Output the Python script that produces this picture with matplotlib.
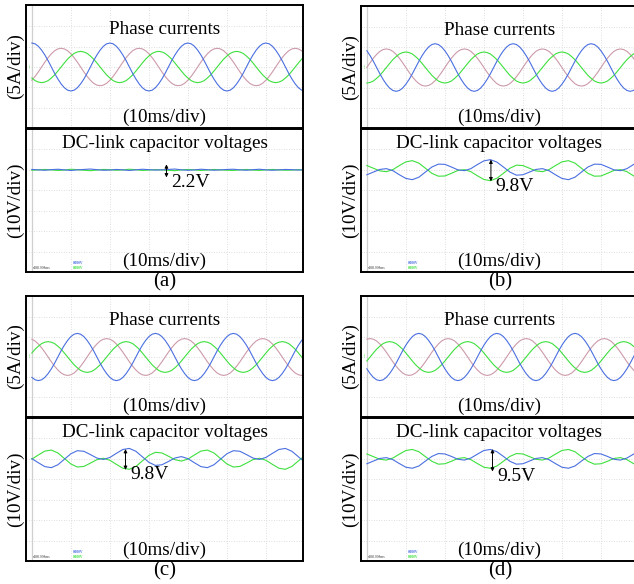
import matplotlib
matplotlib.use("Agg")
import matplotlib.pyplot as plt
import numpy as np

plt.rcParams['font.family'] = ['Liberation Serif', 'DejaVu Serif']

############################### data #####################
# scope time bases (ms): currents read every 1/24 period, voltages every 1/12 period
t_cur = np.arange(85) * 20 / 24
t_volt = np.arange(43) * 20 / 12

# phase currents in divisions (5 A/div)
ia_blue = [1.18, 1.14, 1.02, 0.83, 0.59, 0.31, 0, -0.31, -0.59, -0.83, -1.02, -1.14,
           -1.18, -1.14, -1.02, -0.83, -0.59, -0.31, 0, 0.31, 0.59, 0.83, 1.02, 1.14,
           1.18, 1.14, 1.02, 0.83, 0.59, 0.31, 0, -0.31, -0.59, -0.83, -1.02, -1.14,
           -1.18, -1.14, -1.02, -0.83, -0.59, -0.31, 0, 0.31, 0.59, 0.83, 1.02, 1.14,
           1.18, 1.14, 1.02, 0.83, 0.59, 0.31, 0, -0.31, -0.59, -0.83, -1.02, -1.14,
           -1.18, -1.14, -1.02, -0.83, -0.59, -0.31, 0, 0.31, 0.59, 0.83, 1.02, 1.14,
           1.18, 1.14, 1.02, 0.83, 0.59, 0.31, 0, -0.31, -0.59, -0.83, -1.02, -1.14, -1.18]
ia_pink = [-0.65, -0.46, -0.24, 0, 0.24, 0.46, 0.65, 0.80, 0.89, 0.92, 0.89, 0.80,
           0.65, 0.46, 0.24, 0, -0.24, -0.46, -0.65, -0.80, -0.89, -0.92, -0.89, -0.80,
           -0.65, -0.46, -0.24, 0, 0.24, 0.46, 0.65, 0.80, 0.89, 0.92, 0.89, 0.80,
           0.65, 0.46, 0.24, 0, -0.24, -0.46, -0.65, -0.80, -0.89, -0.92, -0.89, -0.80,
           -0.65, -0.46, -0.24, 0, 0.24, 0.46, 0.65, 0.80, 0.89, 0.92, 0.89, 0.80,
           0.65, 0.46, 0.24, 0, -0.24, -0.46, -0.65, -0.80, -0.89, -0.92, -0.89, -0.80,
           -0.65, -0.46, -0.24, 0, 0.24, 0.46, 0.65, 0.80, 0.89, 0.92, 0.89, 0.80, 0.65]
ia_green = [-0.54, -0.67, -0.74, -0.77, -0.74, -0.67, -0.54, -0.39, -0.20, 0, 0.20, 0.39,
            0.54, 0.67, 0.74, 0.77, 0.74, 0.67, 0.54, 0.39, 0.20, 0, -0.20, -0.39,
            -0.54, -0.67, -0.74, -0.77, -0.74, -0.67, -0.54, -0.39, -0.20, 0, 0.20, 0.39,
            0.54, 0.67, 0.74, 0.77, 0.74, 0.67, 0.54, 0.39, 0.20, 0, -0.20, -0.39,
            -0.54, -0.67, -0.74, -0.77, -0.74, -0.67, -0.54, -0.39, -0.20, 0, 0.20, 0.39,
            0.54, 0.67, 0.74, 0.77, 0.74, 0.67, 0.54, 0.39, 0.20, 0, -0.20, -0.39,
            -0.54, -0.67, -0.74, -0.77, -0.74, -0.67, -0.54, -0.39, -0.20, 0, 0.20, 0.39, 0.54]

ib_blue = [0.83, 0.59, 0.31, 0, -0.31, -0.59, -0.83, -1.02, -1.14, -1.18, -1.14, -1.02,
           -0.83, -0.59, -0.31, 0, 0.31, 0.59, 0.83, 1.02, 1.14, 1.18, 1.14, 1.02,
           0.83, 0.59, 0.31, 0, -0.31, -0.59, -0.83, -1.02, -1.14, -1.18, -1.14, -1.02,
           -0.83, -0.59, -0.31, 0, 0.31, 0.59, 0.83, 1.02, 1.14, 1.18, 1.14, 1.02,
           0.83, 0.59, 0.31, 0, -0.31, -0.59, -0.83, -1.02, -1.14, -1.18, -1.14, -1.02,
           -0.83, -0.59, -0.31, 0, 0.31, 0.59, 0.83, 1.02, 1.14, 1.18, 1.14, 1.02,
           0.83, 0.59, 0.31, 0, -0.31, -0.59, -0.83, -1.02, -1.14, -1.18, -1.14, -1.02, -0.83]
ib_pink = [0, 0.24, 0.46, 0.65, 0.80, 0.89, 0.92, 0.89, 0.80, 0.65, 0.46, 0.24,
           0, -0.24, -0.46, -0.65, -0.80, -0.89, -0.92, -0.89, -0.80, -0.65, -0.46, -0.24,
           0, 0.24, 0.46, 0.65, 0.80, 0.89, 0.92, 0.89, 0.80, 0.65, 0.46, 0.24,
           0, -0.24, -0.46, -0.65, -0.80, -0.89, -0.92, -0.89, -0.80, -0.65, -0.46, -0.24,
           0, 0.24, 0.46, 0.65, 0.80, 0.89, 0.92, 0.89, 0.80, 0.65, 0.46, 0.24,
           0, -0.24, -0.46, -0.65, -0.80, -0.89, -0.92, -0.89, -0.80, -0.65, -0.46, -0.24,
           0, 0.24, 0.46, 0.65, 0.80, 0.89, 0.92, 0.89, 0.80, 0.65, 0.46, 0.24, 0]
ib_green = [-0.77, -0.74, -0.67, -0.54, -0.39, -0.20, 0, 0.20, 0.39, 0.54, 0.67, 0.74,
            0.77, 0.74, 0.67, 0.54, 0.39, 0.20, 0, -0.20, -0.39, -0.54, -0.67, -0.74,
            -0.77, -0.74, -0.67, -0.54, -0.39, -0.20, 0, 0.20, 0.39, 0.54, 0.67, 0.74,
            0.77, 0.74, 0.67, 0.54, 0.39, 0.20, 0, -0.20, -0.39, -0.54, -0.67, -0.74,
            -0.77, -0.74, -0.67, -0.54, -0.39, -0.20, 0, 0.20, 0.39, 0.54, 0.67, 0.74,
            0.77, 0.74, 0.67, 0.54, 0.39, 0.20, 0, -0.20, -0.39, -0.54, -0.67, -0.74,
            -0.77, -0.74, -0.67, -0.54, -0.39, -0.20, 0, 0.20, 0.39, 0.54, 0.67, 0.74, 0.77]

ic_blue = [-1.02, -1.14, -1.18, -1.14, -1.02, -0.83, -0.59, -0.31, 0, 0.31, 0.59, 0.83,
           1.02, 1.14, 1.18, 1.14, 1.02, 0.83, 0.59, 0.31, 0, -0.31, -0.59, -0.83,
           -1.02, -1.14, -1.18, -1.14, -1.02, -0.83, -0.59, -0.31, 0, 0.31, 0.59, 0.83,
           1.02, 1.14, 1.18, 1.14, 1.02, 0.83, 0.59, 0.31, 0, -0.31, -0.59, -0.83,
           -1.02, -1.14, -1.18, -1.14, -1.02, -0.83, -0.59, -0.31, 0, 0.31, 0.59, 0.83,
           1.02, 1.14, 1.18, 1.14, 1.02, 0.83, 0.59, 0.31, 0, -0.31, -0.59, -0.83,
           -1.02, -1.14, -1.18, -1.14, -1.02, -0.83, -0.59, -0.31, 0, 0.31, 0.59, 0.83, 1.02]
ic_pink = [0.89, 0.80, 0.65, 0.46, 0.24, 0, -0.24, -0.46, -0.65, -0.80, -0.89, -0.92,
           -0.89, -0.80, -0.65, -0.46, -0.24, 0, 0.24, 0.46, 0.65, 0.80, 0.89, 0.92,
           0.89, 0.80, 0.65, 0.46, 0.24, 0, -0.24, -0.46, -0.65, -0.80, -0.89, -0.92,
           -0.89, -0.80, -0.65, -0.46, -0.24, 0, 0.24, 0.46, 0.65, 0.80, 0.89, 0.92,
           0.89, 0.80, 0.65, 0.46, 0.24, 0, -0.24, -0.46, -0.65, -0.80, -0.89, -0.92,
           -0.89, -0.80, -0.65, -0.46, -0.24, 0, 0.24, 0.46, 0.65, 0.80, 0.89, 0.92,
           0.89, 0.80, 0.65, 0.46, 0.24, 0, -0.24, -0.46, -0.65, -0.80, -0.89, -0.92, -0.89]
ic_green = [0.20, 0.39, 0.54, 0.67, 0.74, 0.77, 0.74, 0.67, 0.54, 0.39, 0.20, 0,
            -0.20, -0.39, -0.54, -0.67, -0.74, -0.77, -0.74, -0.67, -0.54, -0.39, -0.20, 0,
            0.20, 0.39, 0.54, 0.67, 0.74, 0.77, 0.74, 0.67, 0.54, 0.39, 0.20, 0,
            -0.20, -0.39, -0.54, -0.67, -0.74, -0.77, -0.74, -0.67, -0.54, -0.39, -0.20, 0,
            0.20, 0.39, 0.54, 0.67, 0.74, 0.77, 0.74, 0.67, 0.54, 0.39, 0.20, 0,
            -0.20, -0.39, -0.54, -0.67, -0.74, -0.77, -0.74, -0.67, -0.54, -0.39, -0.20, 0,
            0.20, 0.39, 0.54, 0.67, 0.74, 0.77, 0.74, 0.67, 0.54, 0.39, 0.20, 0, -0.20]

id_blue = [-0.59, -0.83, -1.02, -1.14, -1.18, -1.14, -1.02, -0.83, -0.59, -0.31, 0, 0.31,
           0.59, 0.83, 1.02, 1.14, 1.18, 1.14, 1.02, 0.83, 0.59, 0.31, 0, -0.31,
           -0.59, -0.83, -1.02, -1.14, -1.18, -1.14, -1.02, -0.83, -0.59, -0.31, 0, 0.31,
           0.59, 0.83, 1.02, 1.14, 1.18, 1.14, 1.02, 0.83, 0.59, 0.31, 0, -0.31,
           -0.59, -0.83, -1.02, -1.14, -1.18, -1.14, -1.02, -0.83, -0.59, -0.31, 0, 0.31,
           0.59, 0.83, 1.02, 1.14, 1.18, 1.14, 1.02, 0.83, 0.59, 0.31, 0, -0.31,
           -0.59, -0.83, -1.02, -1.14, -1.18, -1.14, -1.02, -0.83, -0.59, -0.31, 0, 0.31, 0.59]
id_pink = [0.89, 0.92, 0.89, 0.80, 0.65, 0.46, 0.24, 0, -0.24, -0.46, -0.65, -0.80,
           -0.89, -0.92, -0.89, -0.80, -0.65, -0.46, -0.24, 0, 0.24, 0.46, 0.65, 0.80,
           0.89, 0.92, 0.89, 0.80, 0.65, 0.46, 0.24, 0, -0.24, -0.46, -0.65, -0.80,
           -0.89, -0.92, -0.89, -0.80, -0.65, -0.46, -0.24, 0, 0.24, 0.46, 0.65, 0.80,
           0.89, 0.92, 0.89, 0.80, 0.65, 0.46, 0.24, 0, -0.24, -0.46, -0.65, -0.80,
           -0.89, -0.92, -0.89, -0.80, -0.65, -0.46, -0.24, 0, 0.24, 0.46, 0.65, 0.80,
           0.89, 0.92, 0.89, 0.80, 0.65, 0.46, 0.24, 0, -0.24, -0.46, -0.65, -0.80, -0.89]
id_green = [-0.20, 0, 0.20, 0.39, 0.54, 0.67, 0.74, 0.77, 0.74, 0.67, 0.54, 0.39,
            0.20, 0, -0.20, -0.39, -0.54, -0.67, -0.74, -0.77, -0.74, -0.67, -0.54, -0.39,
            -0.20, 0, 0.20, 0.39, 0.54, 0.67, 0.74, 0.77, 0.74, 0.67, 0.54, 0.39,
            0.20, 0, -0.20, -0.39, -0.54, -0.67, -0.74, -0.77, -0.74, -0.67, -0.54, -0.39,
            -0.20, 0, 0.20, 0.39, 0.54, 0.67, 0.74, 0.77, 0.74, 0.67, 0.54, 0.39,
            0.20, 0, -0.20, -0.39, -0.54, -0.67, -0.74, -0.77, -0.74, -0.67, -0.54, -0.39,
            -0.20, 0, 0.20, 0.39, 0.54, 0.67, 0.74, 0.77, 0.74, 0.67, 0.54, 0.39, 0.20]

# dc-link capacitor voltages in divisions (10 V/div, screen bottom = 0)
va_blue = [5.02, 5.00, 4.98, 5.01, 5.03, 5.00, 4.97, 5.00, 5.02, 5.04, 5.01, 4.98,
           4.99, 5.02, 5.00, 4.97, 5.00, 5.03, 5.01, 4.99, 5.00, 5.02, 5.04, 5.00,
           4.98, 5.00, 5.03, 5.01, 4.98, 5.00, 5.02, 5.03, 5.00, 4.98, 5.01, 5.03,
           5.00, 4.98, 5.00, 5.02, 5.01, 4.99, 5.01]
va_green = [4.98, 5.00, 5.02, 5.00, 4.97, 4.99, 5.03, 5.01, 4.98, 4.96, 4.99, 5.02,
            5.01, 4.98, 5.00, 5.03, 5.01, 4.97, 4.99, 5.01, 5.00, 4.98, 4.96, 5.00,
            5.02, 5.00, 4.97, 4.99, 5.02, 5.00, 4.98, 4.97, 5.00, 5.02, 4.99, 4.97,
            5.00, 5.02, 5.00, 4.98, 4.99, 5.01, 4.99]

vb_blue = [4.76, 4.89, 5.02, 5.06, 4.96, 4.76, 4.58, 4.52, 4.64, 4.89, 5.14, 5.28,
           5.27, 5.14, 5.00, 4.96, 5.06, 5.26, 5.44, 5.50, 5.38, 5.14, 4.89, 4.74,
           4.76, 4.89, 5.02, 5.06, 4.96, 4.76, 4.58, 4.52, 4.64, 4.89, 5.14, 5.28,
           5.27, 5.14, 5.00, 4.96, 5.06, 5.26, 5.44]
vb_green = [5.21, 5.08, 4.95, 4.91, 5.01, 5.21, 5.39, 5.45, 5.33, 5.08, 4.83, 4.69,
            4.70, 4.83, 4.97, 5.01, 4.91, 4.71, 4.53, 4.47, 4.59, 4.83, 5.08, 5.23,
            5.21, 5.08, 4.95, 4.91, 5.01, 5.21, 5.39, 5.45, 5.33, 5.08, 4.83, 4.69,
            4.70, 4.83, 4.97, 5.01, 4.91, 4.71, 4.53]

vc_blue = [5.01, 4.81, 4.62, 4.57, 4.71, 4.98, 5.25, 5.40, 5.37, 5.21, 5.04, 4.97,
           5.07, 5.27, 5.46, 5.51, 5.37, 5.10, 4.83, 4.68, 4.71, 4.87, 5.04, 5.11,
           5.01, 4.81, 4.62, 4.57, 4.71, 4.98, 5.25, 5.40, 5.37, 5.21, 5.04, 4.97,
           5.07, 5.27, 5.46, 5.51, 5.37, 5.10, 4.83]
vc_green = [4.99, 5.19, 5.38, 5.43, 5.29, 5.02, 4.75, 4.60, 4.63, 4.79, 4.96, 5.03,
            4.93, 4.73, 4.54, 4.49, 4.63, 4.90, 5.17, 5.32, 5.29, 5.13, 4.96, 4.89,
            4.99, 5.19, 5.38, 5.43, 5.29, 5.02, 4.75, 4.60, 4.63, 4.79, 4.96, 5.03,
            4.93, 4.73, 4.54, 4.49, 4.63, 4.90, 5.17]

vd_blue = [4.76, 4.89, 5.02, 5.06, 4.96, 4.77, 4.59, 4.54, 4.65, 4.89, 5.12, 5.26,
           5.24, 5.12, 4.98, 4.94, 5.04, 5.23, 5.41, 5.46, 5.35, 5.12, 4.88, 4.74,
           4.76, 4.89, 5.02, 5.06, 4.96, 4.77, 4.59, 4.54, 4.65, 4.89, 5.12, 5.26,
           5.24, 5.12, 4.98, 4.94, 5.04, 5.23, 5.41]
vd_green = [5.24, 5.11, 4.98, 4.94, 5.04, 5.23, 5.41, 5.46, 5.35, 5.11, 4.88, 4.74,
            4.76, 4.88, 5.02, 5.06, 4.96, 4.77, 4.59, 4.54, 4.65, 4.88, 5.12, 5.26,
            5.24, 5.11, 4.98, 4.94, 5.04, 5.23, 5.41, 5.46, 5.35, 5.11, 4.88, 4.74,
            4.76, 4.88, 5.02, 5.06, 4.96, 4.77, 4.59]

ripple_labels = ['2.2V', '9.8V', '9.8V', '9.5V']
ripple_t = [34.5, 31.8, 24.0, 32.2]
ripple_hi = [5.27, 5.5, 5.48, 5.48]
ripple_lo = [4.63, 4.44, 4.46, 4.38]
panel_names = ['(a)', '(b)', '(c)', '(d)']

BLUE = '#4a6fe0'
PINK = '#cc9aa8'
GREEN = '#3ee03e'

############################### figure #####################
W, H = 634, 584
fig = plt.figure(figsize=(W / 100, H / 100), dpi=100)


def px_axes(left, top, right, bottom):
    return fig.add_axes([left / W, 1 - bottom / H, (right - left) / W, (bottom - top) / H])


def scope_style(ax, ylim, grid_y):
    ax.set_xlim(-1.5, 69.5)
    ax.set_ylim(*ylim)
    ax.set_xticks([])
    ax.set_yticks([])
    for s in ax.spines.values():
        s.set_linewidth(1.4)
        s.set_color('black')
    for gx in range(10, 70, 10):
        ax.axvline(gx, color='#d4d4d4', lw=0.6, ls=(0, (1, 2)), zorder=0)
    for gy in grid_y:
        ax.axhline(gy, color='#d4d4d4', lw=0.6, ls=(0, (1, 2)), zorder=0)
    ax.axvline(0, color='#cfcfcf', lw=0.9, zorder=0)


panels = [
    dict(x=(26, 303), y=(5, 128, 272), cur=(ia_blue, ia_pink, ia_green), volt=(va_blue, va_green)),
    dict(x=(361, 638), y=(6, 128, 272), cur=(ib_blue, ib_pink, ib_green), volt=(vb_blue, vb_green)),
    dict(x=(26, 303), y=(296, 417, 561), cur=(ic_blue, ic_pink, ic_green), volt=(vc_blue, vc_green)),
    dict(x=(361, 638), y=(296, 417, 561), cur=(id_blue, id_pink, id_green), volt=(vd_blue, vd_green)),
]

for i, p in enumerate(panels):
    left, right = p['x']
    top, mid, bottom = p['y']

    # phase currents
    ax1 = px_axes(left, top, right, mid)
    scope_style(ax1, (-3.0, 3.05), [-2, -1, 0, 1, 2])
    blue, pink, green = p['cur']
    ax1.plot(t_cur, pink, color=PINK, lw=0.8)
    ax1.plot(t_cur, green, color=GREEN, lw=0.8)
    ax1.plot(t_cur, blue, color=BLUE, lw=0.8)
    ax1.text(0.5, 0.80, 'Phase currents', transform=ax1.transAxes, ha='center', va='center', fontsize=13.8)
    ax1.text(0.5, 0.09, '(10ms/div)', transform=ax1.transAxes, ha='center', va='center', fontsize=13.8)
    ax1.text(-1.2, 0, '\u2191', color=GREEN, fontsize=4, ha='left', va='center')

    # dc-link voltages
    ax2 = px_axes(left, mid + 1, right, bottom)
    scope_style(ax2, (0, 7), [1, 2, 3, 4, 5, 6])
    vb, vg = p['volt']
    ax2.plot(t_volt, vg, color=GREEN, lw=0.8)
    ax2.plot(t_volt, vb, color=BLUE, lw=0.8)
    ax2.text(0.5, 0.90, 'DC-link capacitor voltages', transform=ax2.transAxes, ha='center', va='center', fontsize=13.8)
    ax2.text(0.5, 0.075, '(10ms/div)', transform=ax2.transAxes, ha='center', va='center', fontsize=13.8)
    ax2.annotate('', xy=(ripple_t[i], ripple_hi[i]), xytext=(ripple_t[i], ripple_lo[i]),
                 arrowprops=dict(arrowstyle='<|-|>', lw=0.7, color='black', mutation_scale=5,
                                 shrinkA=0, shrinkB=0))
    ax2.text(ripple_t[i] + 1.2, ripple_lo[i] - 0.25, ripple_labels[i], fontsize=14, ha='left', va='center')
    ax2.text(0.2, 0.08, '-488.998ms', fontsize=2.6, color='#333333', ha='left', va='bottom')
    ax2.text(10.6, 0.35, '0.000V', fontsize=2.6, color=BLUE, ha='left', va='bottom', weight='bold')
    ax2.text(10.6, 0.08, '0.000V', fontsize=2.6, color=GREEN, ha='left', va='bottom', weight='bold')

    # axis captions and panel letter
    fig.text((left - 11) / W, 1 - (top + mid) / 2 / H, '(5A/div)', rotation=90, ha='center', va='center', fontsize=13.8)
    fig.text((left - 11) / W, 1 - (mid + bottom) / 2 / H, '(10V/div)', rotation=90, ha='center', va='center', fontsize=13.8)
    fig.text((left + 139) / W, 1 - (bottom + 10) / H, panel_names[i], ha='center', va='center', fontsize=15)

fig.savefig('out.png', dpi=100)
